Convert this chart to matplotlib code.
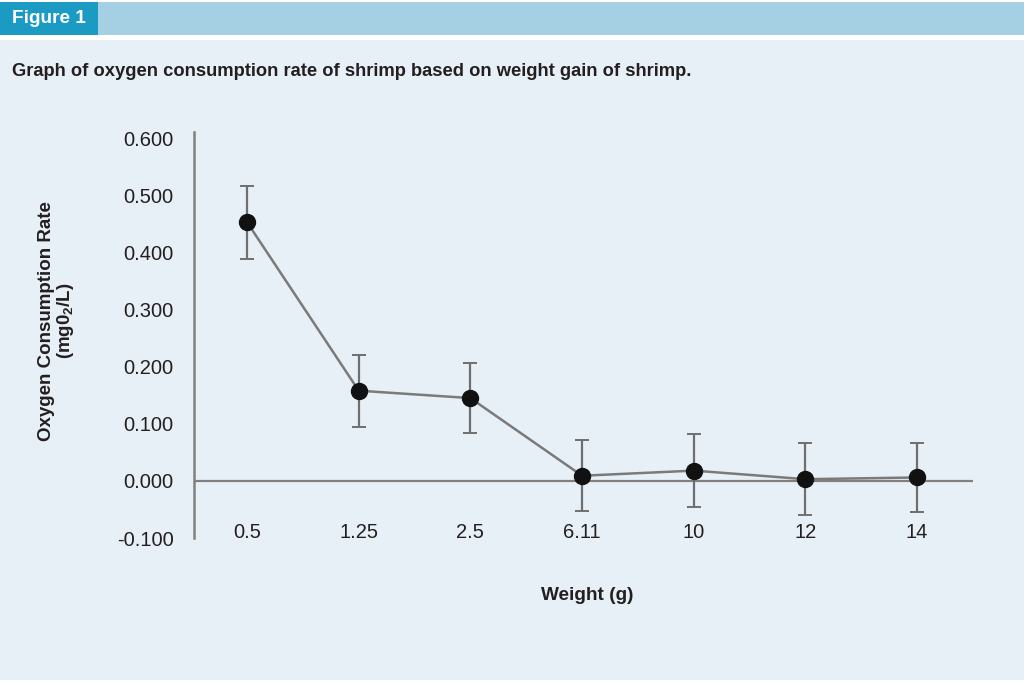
import matplotlib
matplotlib.use("Agg")
import matplotlib.pyplot as plt
from matplotlib.patches import Rectangle

categories = ["0.5", "1.25", "2.5", "6.11", "10", "12", "14"]
rates = [0.453, 0.158, 0.145, 0.009, 0.018, 0.003, 0.006]
errors = [0.064, 0.063, 0.061, 0.062, 0.064, 0.063, 0.060]
yticks = [-0.1, 0.0, 0.1, 0.2, 0.3, 0.4, 0.5, 0.6]

FONT = ["Liberation Sans", "DejaVu Sans"]
plt.rcParams["font.family"] = FONT
plt.rcParams["mathtext.fontset"] = "custom"
plt.rcParams["mathtext.rm"] = "Liberation Sans"
plt.rcParams["mathtext.bf"] = "Liberation Sans:bold"
plt.rcParams["mathtext.it"] = "Liberation Sans:italic"

BG = "#e8f0f7"
TEXT = "#231f20"
GRAY = "#808080"

fig = plt.figure(figsize=(10.24, 6.83), dpi=100)
fig.patch.set_facecolor("white")
W, H = 1024, 683
def fy(py):
    return 1 - py / H

# background panel
fig.patches.append(Rectangle((0, fy(680)), 1, fy(40) - fy(680), transform=fig.transFigure,
                             facecolor=BG, edgecolor="none", zorder=-3))
# header band
fig.patches.append(Rectangle((0, fy(35)), 1, fy(2) - fy(35), transform=fig.transFigure,
                             facecolor="#a5d0e4", edgecolor="none", zorder=-3))
fig.patches.append(Rectangle((0, fy(35)), 98 / W, fy(2) - fy(35), transform=fig.transFigure,
                             facecolor="#1b9bc3", edgecolor="none", zorder=-2))
fig.text(12 / W, fy(18.5), "Figure 1", color="white", fontsize=13.7, fontweight="bold",
         va="center", ha="left")
fig.text(12 / W, fy(71), "Graph of oxygen consumption rate of shrimp based on weight gain of shrimp.",
         color=TEXT, fontsize=13.2, fontweight="bold", va="center", ha="left")

ax = fig.add_axes([194 / W, fy(538), (973 - 194) / W, fy(132) - fy(538)])
ax.set_facecolor("none")
ax.set_zorder(2)
x = list(range(len(categories)))
ax.axhline(0, color=GRAY, lw=1.6, zorder=1)
ax.errorbar(x, rates, yerr=errors, fmt="none", ecolor="#6f6f6f", elinewidth=1.6,
            capsize=5, capthick=1.4, zorder=2)
ax.plot(x, rates, color="#7a7a7a", lw=1.8, marker="o", markersize=11.5,
        markerfacecolor="#111111", markeredgecolor="#111111", zorder=3)

ax.set_xlim(-0.475, 6.5)
ax.set_ylim(-0.1, 0.611)
ax.set_yticks(yticks)
ax.set_yticklabels([f"{v:.3f}" for v in yticks])
ax.set_xticks(x)
ax.set_xticklabels(categories)
for s in ["top", "right", "bottom"]:
    ax.spines[s].set_visible(False)
ax.spines["left"].set_color(GRAY)
ax.spines["left"].set_linewidth(1.8)
ax.tick_params(axis="y", length=0, pad=14.5, labelsize=14.5, labelcolor=TEXT)
ax.tick_params(axis="x", length=0, pad=-11, labelsize=14.5, labelcolor=TEXT)

fig.text(587 / W, fy(595), "Weight (g)", fontsize=13.7, fontweight="bold", color=TEXT,
         ha="center", va="center")
fig.text(57 / W, fy(321), "Oxygen Consumption Rate\n(mg0$_\\mathbf{2}$/L)", fontsize=13.5,
         fontweight="bold", color=TEXT, ha="center", va="center", rotation=90,
         linespacing=1.0, multialignment="center")

fig.savefig("out.png", dpi=100, facecolor=fig.get_facecolor())
